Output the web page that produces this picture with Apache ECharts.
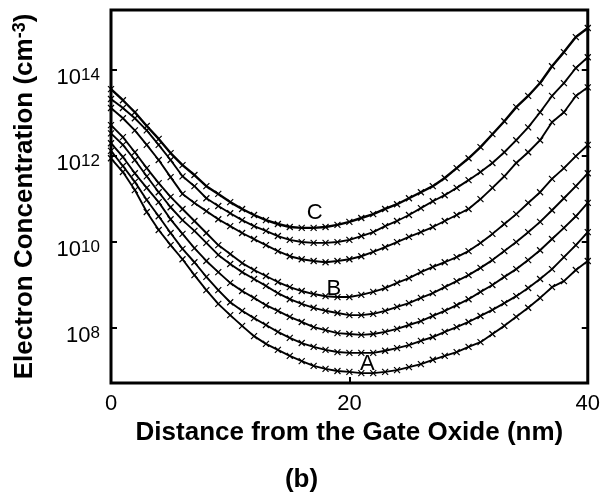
<!DOCTYPE html>
<html>
<head>
<meta charset="utf-8">
<script src="https://cdn.jsdelivr.net/npm/echarts@6/dist/echarts.min.js"></script>
<style>
  html, body { margin: 0; padding: 0; background: #fff; }
  #chart { width: 603px; height: 493px; }
</style>
</head>
<body>
<div id="chart"></div>
<script>
// Distance from the gate oxide (nm), one sample per nanometre
const distance = [0,1,2,3,4,5,6,7,8,9,10,11,12,13,14,15,16,17,18,19,20,
                  21,22,23,24,25,26,27,28,29,30,31,32,33,34,35,36,37,38,39,40];

// log10 of the electron concentration (cm^-3), profiles from top (C) to bottom (A)
const profileC = [13.56,13.30,13.02,12.70,12.40,12.07,11.79,11.56,11.30,11.12,10.93,10.77,10.63,10.51,10.42,10.35,10.33,10.33,10.35,10.40,10.47,
                  10.56,10.65,10.77,10.88,11.02,11.16,11.30,11.49,11.72,11.95,12.21,12.51,12.81,13.14,13.40,13.70,14.09,14.42,14.77,14.98];
const profile2 = [13.33,13.12,12.88,12.60,12.26,11.91,11.53,11.30,11.02,10.84,10.67,10.51,10.37,10.26,10.14,10.05,10.00,9.98,9.98,10.00,10.05,
                  10.14,10.23,10.37,10.49,10.63,10.79,10.95,11.09,11.26,11.44,11.63,11.84,12.09,12.37,12.67,13.02,13.40,13.70,14.05,14.30];
const profile3 = [13.12,12.88,12.60,12.26,11.91,11.51,11.12,10.91,10.72,10.53,10.37,10.21,10.07,9.93,9.79,9.67,9.60,9.56,9.53,9.56,9.60,
                  9.67,9.77,9.88,10.00,10.12,10.23,10.35,10.49,10.63,10.77,11.00,11.26,11.53,11.84,12.09,12.37,12.79,13.02,13.40,13.60];
const profileB = [12.72,12.44,12.09,11.72,11.37,11.05,10.77,10.49,10.21,9.93,9.72,9.51,9.35,9.21,9.07,8.95,8.86,8.79,8.74,8.72,8.72,
                  8.77,8.84,8.93,9.05,9.16,9.30,9.42,9.53,9.65,9.79,9.98,10.19,10.42,10.65,10.91,11.16,11.47,11.72,12.00,12.26];
const profile5 = [12.53,12.26,11.91,11.53,11.16,10.81,10.51,10.26,9.98,9.70,9.49,9.30,9.14,8.98,8.81,8.67,8.56,8.47,8.40,8.35,8.30,
                  8.30,8.33,8.40,8.49,8.58,8.70,8.81,8.95,9.09,9.23,9.40,9.58,9.79,10.00,10.23,10.47,10.74,11.02,11.30,11.60];
const profile6 = [12.30,11.98,11.60,11.26,10.93,10.53,10.19,9.86,9.56,9.30,9.05,8.86,8.70,8.53,8.40,8.26,8.14,8.02,7.95,7.88,7.86,
                  7.84,7.86,7.91,7.98,8.07,8.16,8.28,8.40,8.53,8.67,8.84,9.00,9.19,9.37,9.58,9.81,10.07,10.33,10.60,10.91];
const profile7 = [12.12,11.77,11.40,10.98,10.60,10.21,9.84,9.53,9.19,8.88,8.60,8.40,8.23,8.07,7.91,7.77,7.65,7.56,7.49,7.44,7.42,
                  7.42,7.42,7.47,7.53,7.60,7.70,7.79,7.91,8.02,8.14,8.28,8.42,8.58,8.74,8.93,9.14,9.37,9.65,9.93,10.23];
const profileA = [11.95,11.63,11.21,10.70,10.28,9.93,9.60,9.23,8.88,8.56,8.30,8.05,7.81,7.63,7.49,7.35,7.23,7.12,7.05,7.00,6.98,
                  6.95,6.95,6.98,7.02,7.09,7.16,7.26,7.35,7.44,7.56,7.67,7.86,8.05,8.26,8.47,8.70,8.95,9.09,9.35,9.56];

const profiles = [profileC, profile2, profile3, profileB, profile5, profile6, profile7, profileA];

// Decades marked on the concentration axis (exponents of 10)
const decadeTicks = [8, 10, 12, 14];
const distanceTicks = [0, 20, 40];

// Curve letters and where they sit (distance in nm, log10 concentration)
const curveNames = ['C', 'B', 'A'];
const curveNameX = [17.1, 18.7, 21.5];
const curveNameY = [10.67, 8.91, 7.16];

const FONT = '"Liberation Sans", Arial, Helvetica, sans-serif';
const yMin = 6.72, yMax = 15.4;

const chart = echarts.init(document.getElementById('chart'), null, { renderer: 'canvas' });

const crossMark = 'path://M0,0L10,10M10,0L0,10';

const curveSeries = profiles.map((p, i) => ({
  type: 'line',
  name: 'profile ' + (i + 1),
  data: distance.map((d, k) => [d, p[k]]),
  smooth: false,
  symbol: crossMark,
  symbolSize: 6,
  showAllSymbol: true,
  itemStyle: { color: 'rgba(0,0,0,0)', borderColor: '#000', borderWidth: 1.2 },
  lineStyle: { color: '#000', width: i === 0 ? 2.4 : 1.9 },
  emphasis: { disabled: true },
  z: 3
}));

const letterSeries = {
  type: 'scatter',
  name: 'letters',
  data: curveNames.map((n, i) => ({ value: [curveNameX[i], curveNameY[i]], name: n })),
  symbol: 'circle',
  symbolSize: 0,
  itemStyle: { color: '#000' },
  label: {
    show: true,
    position: 'inside',
    formatter: p => p.name,
    color: '#000',
    opacity: 1,
    textBorderWidth: 0,
    fontFamily: FONT,
    fontSize: 22
  },
  emphasis: { disabled: true },
  z: 5
};

const yLabelRich = {
  b: { fontFamily: FONT, fontSize: 22, color: '#000', lineHeight: 22 },
  e: { fontFamily: FONT, fontSize: 17, color: '#000', lineHeight: 17, verticalAlign: 'top' }
};

chart.setOption({
  backgroundColor: '#fff',
  animation: false,
  grid: {
    left: 111, right: 15, top: 10, bottom: 110,
    show: true, borderColor: '#000', borderWidth: 3, backgroundColor: 'transparent'
  },
  xAxis: [{
    type: 'value', min: 0, max: 40, interval: 20, position: 'bottom',
    axisLine: { show: false },
    splitLine: { show: false },
    axisTick: { show: true, inside: true, length: 6, lineStyle: { color: '#000', width: 2 } },
    axisLabel: {
      customValues: distanceTicks,
      color: '#000', fontFamily: FONT, fontSize: 22, margin: 10
    },
    name: 'Distance from the Gate Oxide (nm)',
    nameLocation: 'middle', nameGap: 33,
    nameTextStyle: { fontFamily: FONT, fontSize: 26, fontWeight: 'bold', color: '#000' }
  }],
  yAxis: [{
    type: 'value', min: yMin, max: yMax, position: 'left',
    axisLine: { show: false },
    splitLine: { show: false },
    axisTick: { show: true, inside: true, length: 6, customValues: decadeTicks, lineStyle: { color: '#000', width: 2 } },
    axisLabel: {
      customValues: decadeTicks, margin: 11,
      padding: [16, 0, 0, 0],
      formatter: v => '{b|10}{e|' + v + '}',
      rich: yLabelRich
    },
    name: '{t|Electron Concentration (cm}{s|-3}{t|)}',
    nameLocation: 'middle', nameGap: 72, nameRotate: 90,
    nameTextStyle: {
      rich: {
        t: { fontFamily: FONT, fontSize: 26, fontWeight: 'bold', color: '#000', lineHeight: 28 },
        s: { fontFamily: FONT, fontSize: 18, fontWeight: 'bold', color: '#000', lineHeight: 18, verticalAlign: 'top' }
      }
    }
  }, {
    type: 'value', min: yMin, max: yMax, position: 'right',
    axisLine: { show: false },
    splitLine: { show: false },
    axisTick: { show: true, inside: true, length: 6, customValues: decadeTicks, lineStyle: { color: '#000', width: 2 } },
    axisLabel: { show: false }
  }],
  graphic: [{
    type: 'text',
    left: 'center', top: 467,
    style: { text: '(b)', fontFamily: FONT, fontSize: 26, fontWeight: 'bold', fill: '#000' }
  }],
  series: [...curveSeries, letterSeries]
});
</script>
</body>
</html>
